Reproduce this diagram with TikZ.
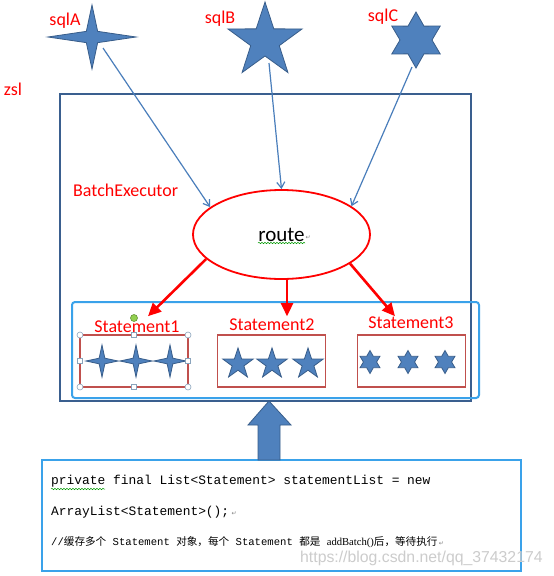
\documentclass[tikz,border=0pt]{standalone}
\usepackage{fontspec}
\setmainfont{Carlito}
\newfontfamily\codefont{Liberation Mono}
\newfontfamily\cjkfont{Noto Sans CJK SC}
\newfontfamily\serfont{Liberation Serif}
\newfontfamily\markfont{DejaVu Sans}
\newfontfamily\wmfont{Liberation Sans}
\usetikzlibrary{
    arrows.meta,calc,positioning,shapes.geometric,
    decorations.pathmorphing
}

\definecolor{starblue}{HTML}{4F81BD}
\definecolor{starline}{HTML}{385D8A}
\definecolor{flowblue}{HTML}{4A7EBB}
\definecolor{frameblue}{HTML}{3A5F8F}
\definecolor{lightframe}{HTML}{3AA2EA}
\definecolor{boxred}{HTML}{C0504D}
\definecolor{handle}{HTML}{8AA4BC}
\definecolor{knob}{HTML}{92D050}

% star: x, y, points, outer x radius, outer y radius, inner radius
\newcommand{\drawstar}[6]{
    \filldraw[starbody] ([shift={(#1,#2)}]270:#4 and #5)
        \foreach \k [evaluate=\k as \ain using 270+180*(2*\k-1)/#3,
                     evaluate=\k as \aout using 270+360*\k/#3] in {1,...,#3} {
            -- ([shift={(#1,#2)}]\ain:#6)
            -- ([shift={(#1,#2)}]\aout:#4 and #5)
        } -- cycle;
}

\begin{document}
\begin{tikzpicture}[x=1pt,y=-1pt,
    starbody/.style={fill=starblue, draw=starline, line width=0.8pt, line join=miter},
    lbl/.style={text=red, font=\fontsize{18}{20}\selectfont, inner sep=0pt},
    flow/.style={draw=flowblue, line width=1.2pt, -{Straight Barb[length=6pt,width=8pt]}},
    push/.style={draw=red, line width=2.6pt, -{Triangle[length=13pt,width=12pt]}},
    stmtbox/.style={draw=boxred, line width=1.6pt, minimum width=108, minimum height=52, inner sep=0pt},
    selhandle/.style={draw=handle, fill=white, line width=0.6pt},
    squiggle/.style={draw=green!60!black, line width=0.5pt, decorate,
        decoration={snake, amplitude=0.7pt, segment length=3pt}},
    retmark/.style={font=\markfont\fontsize{6}{6}\selectfont, text=gray, inner sep=0pt},
    codeline/.style={anchor=west, font=\codefont\fontsize{12.9}{14}\selectfont, inner sep=0pt}
]
    \useasboundingbox (0,0) rectangle (554,576);
    \fill[white] (0,0) rectangle (554,576);

    % Sources
    \coordinate (sqlA) at (92,37);
    \coordinate (sqlB) at (265,41);
    \coordinate (sqlC) at (416,40);
    \drawstar{92}{37}{4}{44}{32}{8}
    \drawstar{265}{41}{5}{39}{39}{15}
    \drawstar{416}{40}{6}{28}{28}{16}
    \node[lbl] (sqlAlbl) at (65,21) {sqlA};
    \node[lbl] (sqlBlbl) at (220,19) {sqlB};
    \node[lbl] (sqlClbl) at (383,17) {sqlC};
    \node[lbl] (zsl) at (13,89) {zsl};

    % Executor
    \draw[frameblue, line width=1.5pt] (60,94) rectangle (471,401);
    \node[lbl, anchor=west] (batch) at (73,190) {BatchExecutor};
    \node[ellipse, draw=red, line width=1.8pt, minimum width=177, minimum height=89,
        font=\fontsize{21}{22}\selectfont] (route) at (281.5,234.5) {route};
    \draw[squiggle] (258,243) -- (305,243);
    \node[retmark, right=1pt of route.center, xshift=23pt, yshift=-3pt] (routeret) {↵};

    % Statements
    \draw[lightframe, line width=2pt, rounded corners=3pt] (72,302) rectangle (479,398);
    \node[stmtbox] (box1) at (134,361) {};
    \node[stmtbox] (box2) at (271.5,361) {};
    \node[stmtbox] (box3) at (411.5,361) {};
    \node[lbl] (st1) at (137,327) {Statement1};
    \node[lbl] (st2) at (272,325) {Statement2};
    \node[lbl] (st3) at (411,323) {Statement3};
    \foreach \sx in {102,136,170} {
        \drawstar{\sx}{361}{4}{16}{16}{4}
    }
    \foreach \sx in {238,272,308} {
        \drawstar{\sx}{364}{5}{16}{16}{6.2}
    }
    \foreach \sx in {370,408,445} {
        \drawstar{\sx}{362}{6}{11.5}{11.5}{6.6}
    }
    % Selection handles
    \foreach \hx/\hy in {80/335,188/335,80/387,188/387} {
        \draw[selhandle] (\hx,\hy) circle (3);
    }
    \foreach \hx/\hy in {134/335,80/361,188/361,134/387} {
        \draw[selhandle] (\hx-2.5,\hy-2.5) rectangle (\hx+2.5,\hy+2.5);
    }
    \filldraw[fill=knob, draw=knob!70!black, line width=0.6pt] (134,318) circle (3.5);

    % Arrows
    \draw[flow] ([shift={(11,11)}]sqlA) -- (route.159);
    \draw[flow] ([shift={(4,22)}]sqlB) -- (route.north);
    \draw[flow] ([shift={(-4,27)}]sqlC) -- (route.22);
    \draw[push] (route.198) -- ([shift={(14,-18)}]box1.north);
    \draw[push] ([xshift=5.5]route.south) -- ([shift={(15.5,-18)}]box2.north);
    \draw[push] (route.-23) -- ([shift={(-16.5,-18)}]box3.north);

    % Code
    \node[draw=lightframe, line width=2pt, minimum width=479, minimum height=111,
        inner sep=0pt] (code) at (281.5,515.5) {};
    \filldraw[fill=starblue, draw=starline, line width=0.8pt]
        (269,401) -- (291,425) -- (280,425) -- (280,460)
        -- (258,460) -- (258,425) -- (248,425) -- cycle;
    \node[codeline] (line1) at (51,481) {private final List<Statement> statementList = new};
    \draw[squiggle] (51,489) -- (105,489);
    \node[codeline] (line2) at (51,512) {ArrayList<Statement>();};
    \node[retmark, right=2pt of line2, yshift=-2pt] (line2ret) {↵};
    \node[anchor=west, inner sep=0pt, font=\codefont\fontsize{10.6}{12}\selectfont] (line3) at (51,542)
        {//{\cjkfont 缓存多个} Statement {\cjkfont 对象，每个} Statement {\cjkfont 都是} {\serfont addBatch()}{\cjkfont 后，等待执行}};
    \node[retmark, right=1pt of line3, yshift=-2pt] (line3ret) {↵};
    \node[anchor=west, inner sep=0pt, text=black!20, font=\wmfont\fontsize{15.8}{16}\selectfont]
        (mark) at (300,558) {https://blog.csdn.net/qq\_37432174};
\end{tikzpicture}
\end{document}
